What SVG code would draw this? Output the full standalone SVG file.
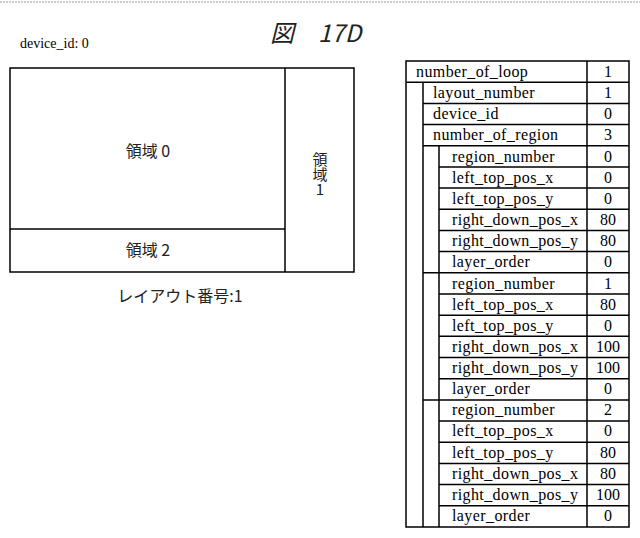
<svg xmlns="http://www.w3.org/2000/svg" width="640" height="538" viewBox="0 0 640 538">
<style>
.s{font-family:"Liberation Serif",serif;font-size:16px;letter-spacing:0.4px;fill:#000}
.v{text-anchor:middle;letter-spacing:0}
.j{font-family:"Noto Sans CJK JP","Liberation Sans",sans-serif;font-size:16px;fill:#222;text-anchor:middle}
.l{stroke:#000;stroke-width:1.5;fill:none}
</style>
<rect width="640" height="538" fill="#fff"/>
<line x1="0" y1="2" x2="640" y2="2" stroke="#999" stroke-dasharray="2,1"/>
<text x="270" y="42" font-family="Noto Sans CJK JP,sans-serif" font-size="24" font-style="italic" fill="#222">図　17D</text>
<text x="20" y="48" class="s" style="font-size:14px;letter-spacing:0">device_id: 0</text>
<g id="layout">
<rect x="10" y="68" width="344" height="204" class="l" stroke-width="2"/>
<line x1="285" y1="68" x2="285" y2="272" class="l" stroke-width="2"/>
<line x1="10" y1="229" x2="285" y2="229" class="l" stroke-width="2"/>
<text x="148" y="157" class="j">領域 0</text>
<text x="148" y="256" class="j">領域 2</text>
<text x="320" y="174" class="j" style="writing-mode:vertical-rl;text-orientation:upright;font-size:15px">領域1</text>
<text x="180" y="302" class="j">レイアウト番号:1</text>
</g>
<g id="table" class="l">
<rect x="406" y="61" width="223" height="466"/>
<line x1="587" y1="61" x2="587" y2="527"/>
<line x1="423" y1="82.2" x2="423" y2="527"/>
<line x1="439" y1="145.7" x2="439" y2="527"/>
<path d="M406 82.2H629M423 103.4H629M423 124.5H629M423 145.7H629M439 166.9H629M439 188.1H629M439 209.3H629M439 230.4H629M439 251.6H629M423 272.8H629M439 294H629M439 315.2H629M439 336.3H629M439 357.5H629M439 378.7H629M423 399.9H629M439 421.1H629M439 442.2H629M439 463.4H629M439 484.6H629M439 505.8H629"/>
</g>
<g id="labels" class="s">
<text x="416" y="77">number_of_loop</text><text x="608" y="77" class="v">1</text>
<text x="433" y="98">layout_number</text><text x="608" y="98" class="v">1</text>
<text x="433" y="119">device_id</text><text x="608" y="119" class="v">0</text>
<text x="433" y="140">number_of_region</text><text x="608" y="140" class="v">3</text>
<text x="452" y="162">region_number</text><text x="608" y="162" class="v">0</text>
<text x="452" y="183">left_top_pos_x</text><text x="608" y="183" class="v">0</text>
<text x="452" y="204">left_top_pos_y</text><text x="608" y="204" class="v">0</text>
<text x="452" y="225">right_down_pos_x</text><text x="608" y="225" class="v">80</text>
<text x="452" y="246">right_down_pos_y</text><text x="608" y="246" class="v">80</text>
<text x="452" y="267">layer_order</text><text x="608" y="267" class="v">0</text>
<text x="452" y="289">region_number</text><text x="608" y="289" class="v">1</text>
<text x="452" y="310">left_top_pos_x</text><text x="608" y="310" class="v">80</text>
<text x="452" y="331">left_top_pos_y</text><text x="608" y="331" class="v">0</text>
<text x="452" y="352">right_down_pos_x</text><text x="608" y="352" class="v">100</text>
<text x="452" y="373">right_down_pos_y</text><text x="608" y="373" class="v">100</text>
<text x="452" y="394">layer_order</text><text x="608" y="394" class="v">0</text>
<text x="452" y="415">region_number</text><text x="608" y="415" class="v">2</text>
<text x="452" y="436">left_top_pos_x</text><text x="608" y="436" class="v">0</text>
<text x="452" y="458">left_top_pos_y</text><text x="608" y="458" class="v">80</text>
<text x="452" y="479">right_down_pos_x</text><text x="608" y="479" class="v">80</text>
<text x="452" y="500">right_down_pos_y</text><text x="608" y="500" class="v">100</text>
<text x="452" y="521">layer_order</text><text x="608" y="521" class="v">0</text>
</g>
</svg>
